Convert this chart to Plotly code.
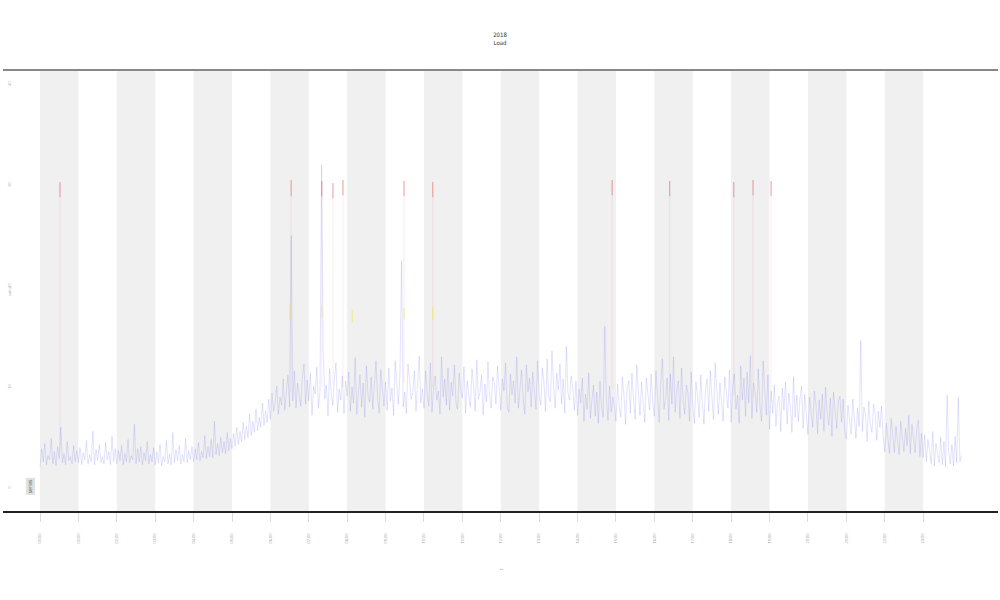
import plotly.graph_objects as go

# ---- data ----
tick_labels = ["%02d:00" % i for i in range(24)]
tick_pos = list(range(24))
shade_starts = [0, 2, 4, 6, 8, 10, 12, 14, 16, 18, 20, 22]

blue_blocks = [
    [2.1,3.9,2.6,4.4,2.3,3.2,2.8,4.9,2.4,3.6,2.2,4.1,2.9,6.0,2.5,3.4,2.3,4.6,2.7,3.1,2.4,4.2,2.6,3.7],
    [2.5,4.0,2.3,3.5,2.8,4.7,2.4,3.3,2.6,5.6,2.3,3.8,2.7,4.3,2.5,3.1,2.4,4.5,2.8,3.6,2.3,5.1,2.6,3.9],
    [2.4,3.7,2.7,4.2,2.3,3.4,2.6,4.8,2.5,3.2,2.8,6.3,2.4,3.9,2.6,4.1,2.3,3.5,2.7,4.6,2.4,3.3,2.6,4.0],
    [2.3,3.6,2.5,4.3,2.2,3.1,2.6,4.7,2.4,3.4,2.3,5.5,2.5,3.8,2.7,4.2,2.4,3.3,2.6,4.9,2.5,3.7,2.8,4.1],
    [2.6,3.9,2.8,4.5,2.7,3.6,3.0,5.2,2.9,4.1,3.1,4.8,3.0,6.6,3.3,4.4,3.2,5.0,3.5,4.6,3.4,5.5,3.7,4.9],
    [3.9,5.4,4.1,6.0,4.3,5.6,4.6,6.5,4.8,6.1,5.0,7.3,5.2,6.6,5.5,7.8,5.7,7.0,6.0,8.4,6.2,7.6,6.5,8.8],
    [6.8,9.4,7.6,8.5,10.1,7.3,9.0,8.2,10.8,7.7,9.6,11.2,8.0,25.0,8.6,11.6,7.9,10.4,9.2,8.1,11.0,12.3,8.3,10.7],
    [8.6,11.4,7.2,10.1,9.3,12.0,7.9,9.6,32.0,13.5,8.8,10.2,7.1,11.8,9.4,8.2,10.9,12.4,7.5,9.8,8.7,11.1,7.4,10.6],
    [9.1,11.5,7.6,10.0,8.4,12.9,7.3,9.7,11.2,8.0,10.4,7.0,12.1,9.2,8.5,11.0,7.8,10.3,12.6,8.9,7.4,11.7,9.6,8.1],
    [10.5,7.7,11.9,8.6,9.9,7.2,12.6,10.1,8.3,11.3,22.5,8.0,9.5,7.4,12.3,10.7,8.8,9.4,11.6,7.6,10.2,13.1,8.4,9.8],
    [7.9,11.6,9.3,8.1,12.4,7.5,10.0,11.1,8.7,9.6,7.3,13.0,9.0,10.8,8.2,11.9,7.7,10.5,9.1,12.2,8.4,7.8,11.4,9.7],
    [8.9,12.0,7.4,10.6,9.2,8.0,11.8,10.1,7.6,12.7,8.8,9.5,11.2,7.2,10.3,8.5,12.5,9.0,7.9,11.0,10.4,8.3,12.1,9.4],
    [7.7,10.8,9.6,12.4,8.1,7.5,11.3,9.2,10.6,8.4,13.0,7.9,10.0,11.7,8.8,7.3,12.2,9.5,10.9,8.0,11.5,9.1,7.8,12.6],
    [9.3,8.2,11.9,10.4,7.6,12.8,9.0,8.5,13.6,10.2,7.9,11.4,9.7,12.3,8.3,10.8,7.4,14.0,9.4,8.7,11.1,10.0,7.7,10.6],
    [7.2,9.8,8.4,10.9,6.6,9.3,7.8,11.4,6.9,8.7,10.2,7.1,9.5,6.4,10.6,8.0,7.0,16.0,8.9,6.7,10.1,7.5,9.0,8.2],
    [6.6,10.3,8.1,7.0,11.0,9.2,6.3,9.9,10.6,7.4,11.4,8.6,6.8,12.2,9.5,7.2,10.5,8.0,6.5,10.9,9.3,7.7,11.3,8.4],
    [7.1,11.6,9.0,6.5,10.4,12.8,7.8,8.9,10.9,6.7,11.3,8.3,13.0,7.5,9.7,10.6,6.9,11.9,8.6,7.3,10.2,9.4,6.6,11.5],
    [8.2,6.4,10.5,9.1,7.0,11.2,8.5,6.3,9.9,10.8,7.6,11.6,8.9,6.8,12.4,9.6,7.3,10.4,8.0,6.6,11.0,9.3,7.9,11.7],
    [6.5,10.1,11.3,7.8,9.2,6.4,12.1,8.7,10.9,7.1,11.5,8.4,13.1,6.9,10.4,9.5,7.5,11.8,8.1,6.6,12.6,9.8,7.2,11.2],
    [5.8,9.6,7.4,10.2,6.1,8.5,9.1,5.6,9.9,7.7,10.5,6.3,9.4,8.2,5.5,11.0,7.0,9.2,6.6,8.8,10.1,5.9,9.3,7.3],
    [5.3,9.0,7.1,6.0,9.6,8.3,5.4,8.7,6.8,9.3,5.6,10.0,7.5,6.2,8.9,5.1,9.5,7.8,5.9,8.6,9.1,6.5,8.8,5.7],
    [4.8,8.2,6.6,5.3,8.8,7.0,4.9,7.9,6.1,14.6,5.6,8.0,7.2,4.6,8.6,6.3,5.5,8.3,7.4,4.7,7.6,6.0,8.1,5.2],
    [3.6,6.4,4.9,3.4,6.9,5.2,3.5,6.1,4.4,3.3,6.6,5.0,3.6,5.9,4.2,7.2,3.4,6.3,4.7,3.5,5.8,6.7,3.1,5.4],
    [3.0,5.3,2.6,4.8,3.7,2.4,5.6,2.2,4.4,3.3,2.5,5.0,2.3,4.6,2.1,9.2,3.6,2.4,4.3,2.2,5.1,2.5,9.0,2.6,3.2],
]
blue_values = [v for blk in blue_blocks for v in blk]
blue_x = [i / 24 for i in range(len(blue_values))]

red_x = [0.52, 6.54, 7.34, 7.63, 7.89, 9.48, 10.23, 14.9, 16.4, 18.07, 18.57, 19.04]
red_top = [30.3, 30.5, 30.4, 30.2, 30.5, 30.4, 30.3, 30.5, 30.4, 30.3, 30.5, 30.4]
red_mid = [28.8, 28.9, 28.9, 28.7, 29.0, 28.9, 28.8, 29.0, 28.9, 28.8, 29.0, 28.9]
red_low = [3.5, 9.5, 10.0, 10.2, 10.0, 10.4, 10.0, 9.8, 9.6, 9.2, 9.0, 8.5]

yellow_x = [6.51, 7.34, 8.13, 9.48, 10.23]
yellow_top = [18.2, 18.0, 17.6, 17.8, 17.9]
yellow_low = [16.6, 16.9, 16.4, 16.7, 16.6]

# ---- build ----
def segs(xs, lows, tops):
    X, Y = [], []
    for x, lo, hi in zip(xs, lows, tops):
        X += [x, x, None]
        Y += [lo, hi, None]
    return X, Y

fig = go.Figure()
fig.add_trace(go.Scatter(x=blue_x, y=blue_values, mode="lines",
                         line=dict(color="rgba(70,70,235,0.26)", width=0.6),
                         showlegend=False, hoverinfo="skip"))
rx, ry = segs(red_x, red_low, red_mid)
fig.add_trace(go.Scatter(x=rx, y=ry, mode="lines",
                         line=dict(color="rgba(230,80,80,0.14)", width=0.8),
                         showlegend=False, hoverinfo="skip"))
rx2, ry2 = segs(red_x, red_mid, red_top)
fig.add_trace(go.Scatter(x=rx2, y=ry2, mode="lines",
                         line=dict(color="rgba(225,50,50,0.5)", width=1),
                         showlegend=False, hoverinfo="skip"))
yx, yy = segs(yellow_x, yellow_low, yellow_top)
fig.add_trace(go.Scatter(x=yx, y=yy, mode="lines",
                         line=dict(color="rgba(240,230,40,0.6)", width=1),
                         showlegend=False, hoverinfo="skip"))

shapes = []
for s in shade_starts:
    shapes.append(dict(type="rect", xref="x", yref="paper", x0=s, x1=s + 1, y0=0, y1=1,
                       fillcolor="#f0f0f0", line=dict(width=0), layer="below"))
shapes.append(dict(type="line", xref="paper", yref="paper", x0=0, x1=1, y0=1, y1=1,
                   line=dict(color="#888888", width=2)))

fig.update_layout(
    width=1000, height=600,
    margin=dict(l=3, r=2, t=70, b=89, autoexpand=False),
    paper_bgcolor="white", plot_bgcolor="white",
    shapes=shapes,
    title=dict(text="2018<br>Load", x=0.5, xanchor="center", y=0.938, yanchor="middle",
               font=dict(family="DejaVu Sans Condensed", size=6, color="#333333")),
    xaxis=dict(range=[-0.964, 24.95], tickmode="array", tickvals=tick_pos, ticktext=tick_labels,
               tickangle=-90, tickfont=dict(size=4, color="#999999"), ticklabelstandoff=10,
               ticks="outside", ticklen=9, tickcolor="#dddddd", tickwidth=0.6,
               showgrid=False, zeroline=False, showline=True, linecolor="#222222", linewidth=1.5),
    yaxis=dict(range=[-2.28, 41.4], tickvals=[0, 10, 20, 30, 40], ticktext=["0", "10", "20", "30", "40"],
               tickangle=-90, tickfont=dict(size=4, color="#aaaaaa"), ticklabelposition="inside",
               showgrid=False, zeroline=False, showline=False, ticks=""),
    annotations=[
        dict(text="t", x=0.5, y=-0.14, xref="paper", yref="paper", showarrow=False,
             textangle=-90, font=dict(size=5, color="#888888")),
        dict(text="value", x=0.002, y=0.5, xref="paper", yref="paper", showarrow=False,
             textangle=-90, font=dict(size=4, color="#aaaaaa")),
        dict(text="series", x=-0.25, y=0.2, xref="x", yref="y", showarrow=False,
             textangle=-90, font=dict(size=5, color="#555555"),
             bgcolor="#e0e0e0"),
    ],
)

fig.write_html("out.html", config={"displayModeBar": False},
               post_script="document.body.style.margin='0px';document.body.style.overflow='hidden';")
